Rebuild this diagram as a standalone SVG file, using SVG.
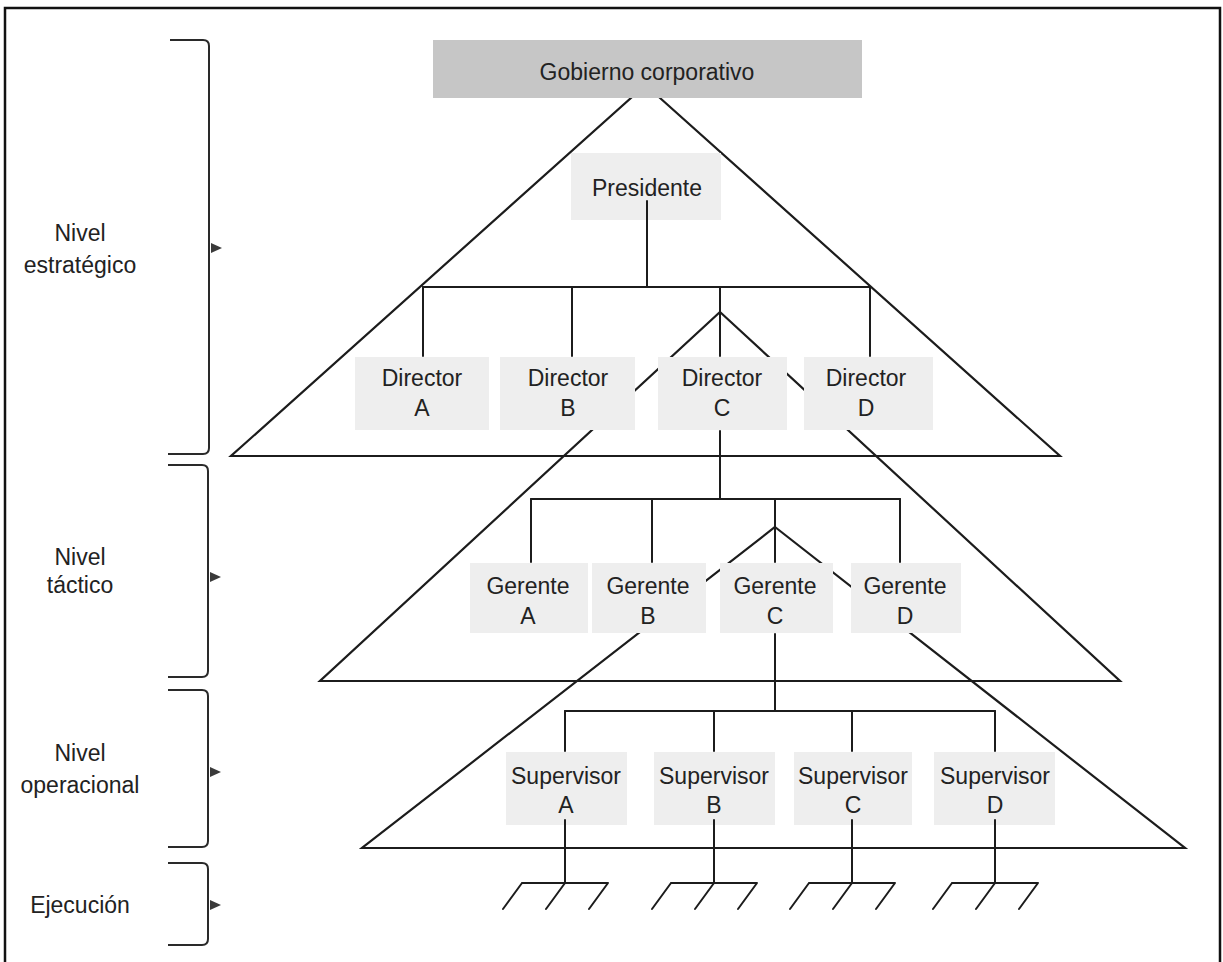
<svg xmlns="http://www.w3.org/2000/svg" width="1223" height="962" viewBox="0 0 1223 962">
  <style>
    .ln { stroke: #1c1c1c; stroke-width: 2; fill: none; stroke-linecap: round; stroke-linejoin: round; }
    .tri { stroke: #1c1c1c; stroke-width: 2.2; fill: none; stroke-linejoin: miter; }
    .brace { stroke: #2a2a2a; stroke-width: 2; fill: none; }
    .arr { fill: #3a3a3a; }
    .box { fill: #eeeeee; }
    .top { fill: #c6c6c6; }
    .t { font-family: "Liberation Sans", Arial, sans-serif; font-size: 23px; fill: #222222; text-anchor: middle; }
    .lab { font-family: "Liberation Sans", Arial, sans-serif; font-size: 23px; fill: #222222; text-anchor: middle; }
  </style>
  <rect x="0" y="0" width="1223" height="962" fill="#ffffff"/>
  <g id="frame">
    <path d="M5,962 V8 H1220 V962" fill="none" stroke="#111" stroke-width="2.5"/>
  </g>
  <g id="levels">
    <g id="level-estrategico">
      <path class="brace" d="M170,40 H203 Q209,40 209,46 V448 Q209,454 203,454 H168"/>
      <polygon class="arr" points="211,243 222,248 211,253"/>
      <text class="lab" x="80" y="241">Nivel</text>
      <text class="lab" x="80" y="273">estratégico</text>
    </g>
    <g id="level-tactico">
      <path class="brace" d="M168,465 H202 Q208,465 208,471 V671 Q208,677 202,677 H168"/>
      <polygon class="arr" points="210,572 221,577 210,582"/>
      <text class="lab" x="80" y="565">Nivel</text>
      <text class="lab" x="80" y="593">táctico</text>
    </g>
    <g id="level-operacional">
      <path class="brace" d="M168,690 H202 Q208,690 208,696 V841 Q208,847 202,847 H168"/>
      <polygon class="arr" points="210,767 221,772 210,777"/>
      <text class="lab" x="80" y="761">Nivel</text>
      <text class="lab" x="80" y="793">operacional</text>
    </g>
    <g id="level-ejecucion">
      <path class="brace" d="M168,863 H202 Q208,863 208,869 V939 Q208,945 202,945 H168"/>
      <polygon class="arr" points="210,900 221,905 210,910"/>
      <text class="lab" x="80" y="913">Ejecución</text>
    </g>
  </g>
  <g id="pyramids">
    <polygon class="tri" points="645.5,85 1060,456 231,456"/>
    <polygon class="tri" points="720,312 1120,681 320,681"/>
    <polygon class="tri" points="775,527 1185,848 362,848"/>
  </g>
  <g id="gobierno">
    <rect class="top" x="433" y="40" width="429" height="58"/>
    <text class="t" x="647" y="80">Gobierno corporativo</text>
  </g>
  <g id="presidente">
    <rect class="box" x="571" y="153" width="150" height="67"/>
    <text class="t" x="647" y="196">Presidente</text>
  </g>
  <g id="director-a"><rect class="box" x="355" y="357" width="134" height="73"/><text class="t" x="422" y="386">Director</text><text class="t" x="422" y="416">A</text></g>
  <g id="director-b"><rect class="box" x="500" y="357" width="135" height="73"/><text class="t" x="568" y="386">Director</text><text class="t" x="568" y="416">B</text></g>
  <g id="director-c"><rect class="box" x="658" y="357" width="129" height="73"/><text class="t" x="722" y="386">Director</text><text class="t" x="722" y="416">C</text></g>
  <g id="director-d"><rect class="box" x="804" y="357" width="129" height="73"/><text class="t" x="866" y="386">Director</text><text class="t" x="866" y="416">D</text></g>
  <g id="gerente-a"><rect class="box" x="470" y="563" width="118" height="70"/><text class="t" x="528" y="594">Gerente</text><text class="t" x="528" y="624">A</text></g>
  <g id="gerente-b"><rect class="box" x="592" y="563" width="114" height="70"/><text class="t" x="648" y="594">Gerente</text><text class="t" x="648" y="624">B</text></g>
  <g id="gerente-c"><rect class="box" x="720" y="563" width="113" height="70"/><text class="t" x="775" y="594">Gerente</text><text class="t" x="775" y="624">C</text></g>
  <g id="gerente-d"><rect class="box" x="851" y="563" width="110" height="70"/><text class="t" x="905" y="594">Gerente</text><text class="t" x="905" y="624">D</text></g>
  <g id="supervisor-a"><rect class="box" x="506" y="752" width="121" height="73"/><text class="t" x="566" y="784">Supervisor</text><text class="t" x="566" y="813">A</text></g>
  <g id="supervisor-b"><rect class="box" x="654" y="752" width="121" height="73"/><text class="t" x="714" y="784">Supervisor</text><text class="t" x="714" y="813">B</text></g>
  <g id="supervisor-c"><rect class="box" x="794" y="752" width="118" height="73"/><text class="t" x="853" y="784">Supervisor</text><text class="t" x="853" y="813">C</text></g>
  <g id="supervisor-d"><rect class="box" x="934" y="752" width="121" height="73"/><text class="t" x="995" y="784">Supervisor</text><text class="t" x="995" y="813">D</text></g>
  <g id="connectors">
    <path class="ln" d="M647,201 V287"/>
    <path class="ln" d="M423,287 H870"/>
    <path class="ln" d="M423,287 V356 M572,287 V356 M720,287 V356 M870,287 V356"/>
    <path class="ln" d="M720,431 V499"/>
    <path class="ln" d="M531,499 H900"/>
    <path class="ln" d="M531,499 V562 M652,499 V562 M775,499 V562 M900,499 V562"/>
    <path class="ln" d="M775,634 V711"/>
    <path class="ln" d="M565,711 H995"/>
    <path class="ln" d="M565,711 V751 M714,711 V751 M852,711 V751 M995,711 V751"/>
    <path class="ln" d="M565,820 V883 M714,820 V883 M852,820 V883 M995,820 V883"/>
    <g id="rake-a"><path class="ln" d="M522,883 H608 M522,883 L503,909 M565,883 L546,909 M608,883 L589,909"/></g>
    <g id="rake-b"><path class="ln" d="M671,883 H757 M671,883 L652,909 M714,883 L695,909 M757,883 L738,909"/></g>
    <g id="rake-c"><path class="ln" d="M809,883 H895 M809,883 L790,909 M852,883 L833,909 M895,883 L876,909"/></g>
    <g id="rake-d"><path class="ln" d="M952,883 H1038 M952,883 L933,909 M995,883 L976,909 M1038,883 L1019,909"/></g>
  </g>
</svg>
